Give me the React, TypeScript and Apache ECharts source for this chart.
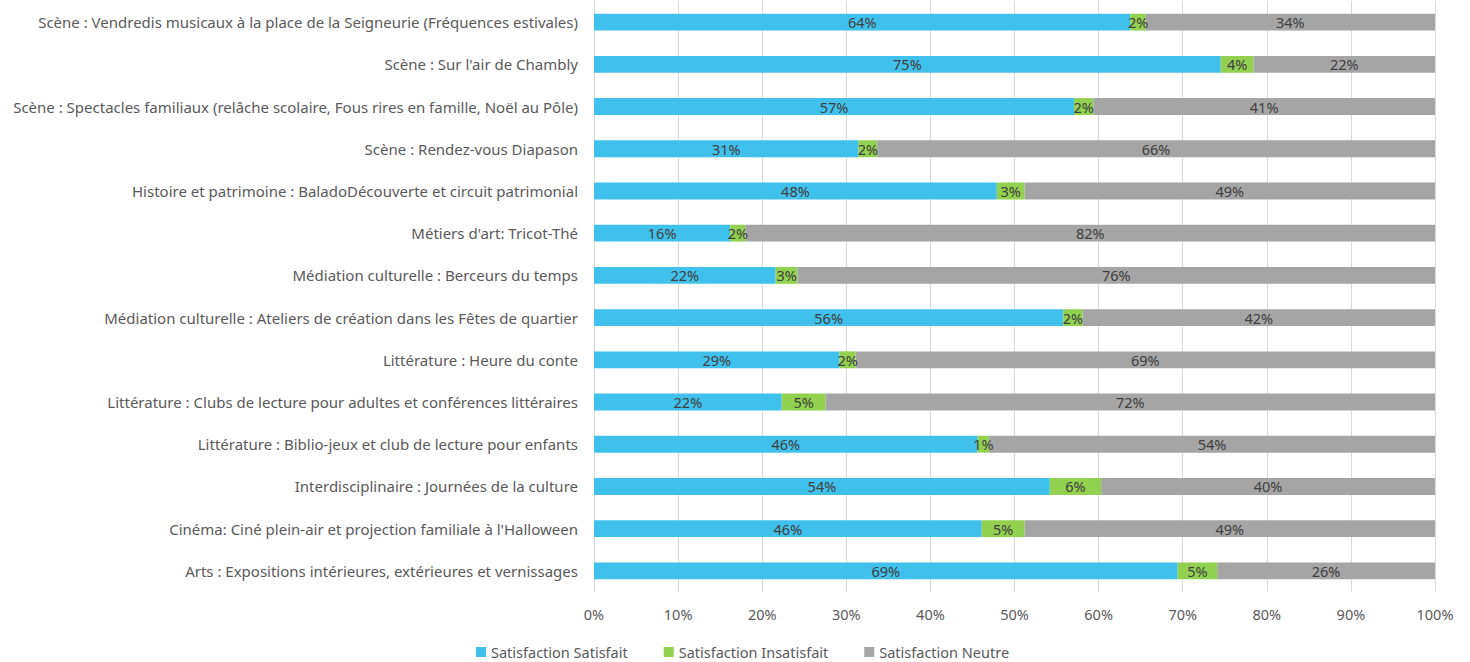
import React, { useEffect, useRef } from "react";
import * as echarts from "echarts";

const categories = [
  "Scène : Vendredis musicaux à la place de la Seigneurie (Fréquences estivales)",
  "Scène : Sur l'air de Chambly",
  "Scène : Spectacles familiaux (relâche scolaire, Fous rires en famille, Noël au Pôle)",
  "Scène : Rendez-vous Diapason",
  "Histoire et patrimoine : BaladoDécouverte et circuit patrimonial",
  "Métiers d'art: Tricot-Thé",
  "Médiation culturelle : Berceurs du temps",
  "Médiation culturelle : Ateliers de création dans les Fêtes de quartier",
  "Littérature : Heure du conte",
  "Littérature : Clubs de lecture pour adultes et conférences littéraires",
  "Littérature : Biblio-jeux et club de lecture pour enfants",
  "Interdisciplinaire : Journées de la culture",
  "Cinéma: Ciné plein-air et projection familiale à l'Halloween",
  "Arts : Expositions intérieures, extérieures et vernissages",
];

const satisfait = [63.8, 74.6, 57.3, 31.3, 47.9, 16.2, 21.6, 55.8, 29.2, 22.3, 46.1, 54.2, 46.1, 69.4];
const insatisfait = [1.8, 3.9, 2.3, 2.2, 3.3, 1.8, 2.6, 2.3, 1.9, 5.2, 1.4, 6.1, 5.1, 4.7];
const neutre = [34.4, 21.6, 40.8, 66.0, 48.8, 82.0, 75.8, 41.9, 68.9, 72.4, 53.6, 39.7, 48.8, 25.9];

const seriesNames = ["Satisfaction Satisfait", "Satisfaction Insatisfait", "Satisfaction Neutre"];
const seriesColors = ["#40C1EB", "#92D050", "#A5A5A5"];
const xTicks = [0, 10, 20, 30, 40, 50, 60, 70, 80, 90, 100];

const FONT = "'Noto Sans', sans-serif";

export default function App() {
  const ref = useRef<HTMLDivElement>(null);
  useEffect(() => {
    document.body.style.margin = "0";
    if (!ref.current) return;
    const chart = echarts.init(ref.current, undefined, { renderer: "svg" });
    const raws = [satisfait, insatisfait, neutre];
    const totals = categories.map((_, i) => satisfait[i] + insatisfait[i] + neutre[i]);
    const series = raws.map((arr, si) => ({
      name: seriesNames[si],
      type: "bar",
      stack: "total",
      barWidth: "40%",
      itemStyle: { color: seriesColors[si] },
      label: {
        show: true,
        position: "inside",
        color: "#404040",
        fontFamily: FONT,
        fontSize: 14.5,
        formatter: (p: any) => Math.round(arr[p.dataIndex]) + "%",
      },
      data: arr.map((v, i) => (v / totals[i]) * 100),
    }));
    chart.setOption({
      animation: false,
      textStyle: { fontFamily: FONT },
      grid: { left: 594, right: 35, top: 1, bottom: 70, containLabel: false },
      legend: {
        data: seriesNames,
        top: 644,
        left: 476,
        padding: 0,
        itemWidth: 10,
        itemHeight: 10,
        itemGap: 36,
        icon: "rect",
        textStyle: { color: "#595959", fontSize: 14.5, lineHeight: 16, fontFamily: FONT },
      },
      xAxis: {
        type: "value",
        min: xTicks[0],
        max: xTicks[xTicks.length - 1],
        interval: 10,
        axisLine: { show: false },
        axisTick: { show: false },
        splitLine: { show: true, lineStyle: { color: "#D9D9D9", width: 1 } },
        axisLabel: {
          color: "#595959",
          fontSize: 14.5,
          margin: 14,
          fontFamily: FONT,
          formatter: (v: number) => v + "%",
        },
      },
      yAxis: {
        type: "category",
        inverse: true,
        data: categories,
        axisLine: { show: false },
        axisTick: { show: false },
        axisLabel: { color: "#595959", fontSize: 15, margin: 16, fontFamily: FONT },
      },
      series,
    });
    return () => chart.dispose();
  }, []);
  return <div ref={ref} style={{ width: 1470, height: 662 }} />;
}
